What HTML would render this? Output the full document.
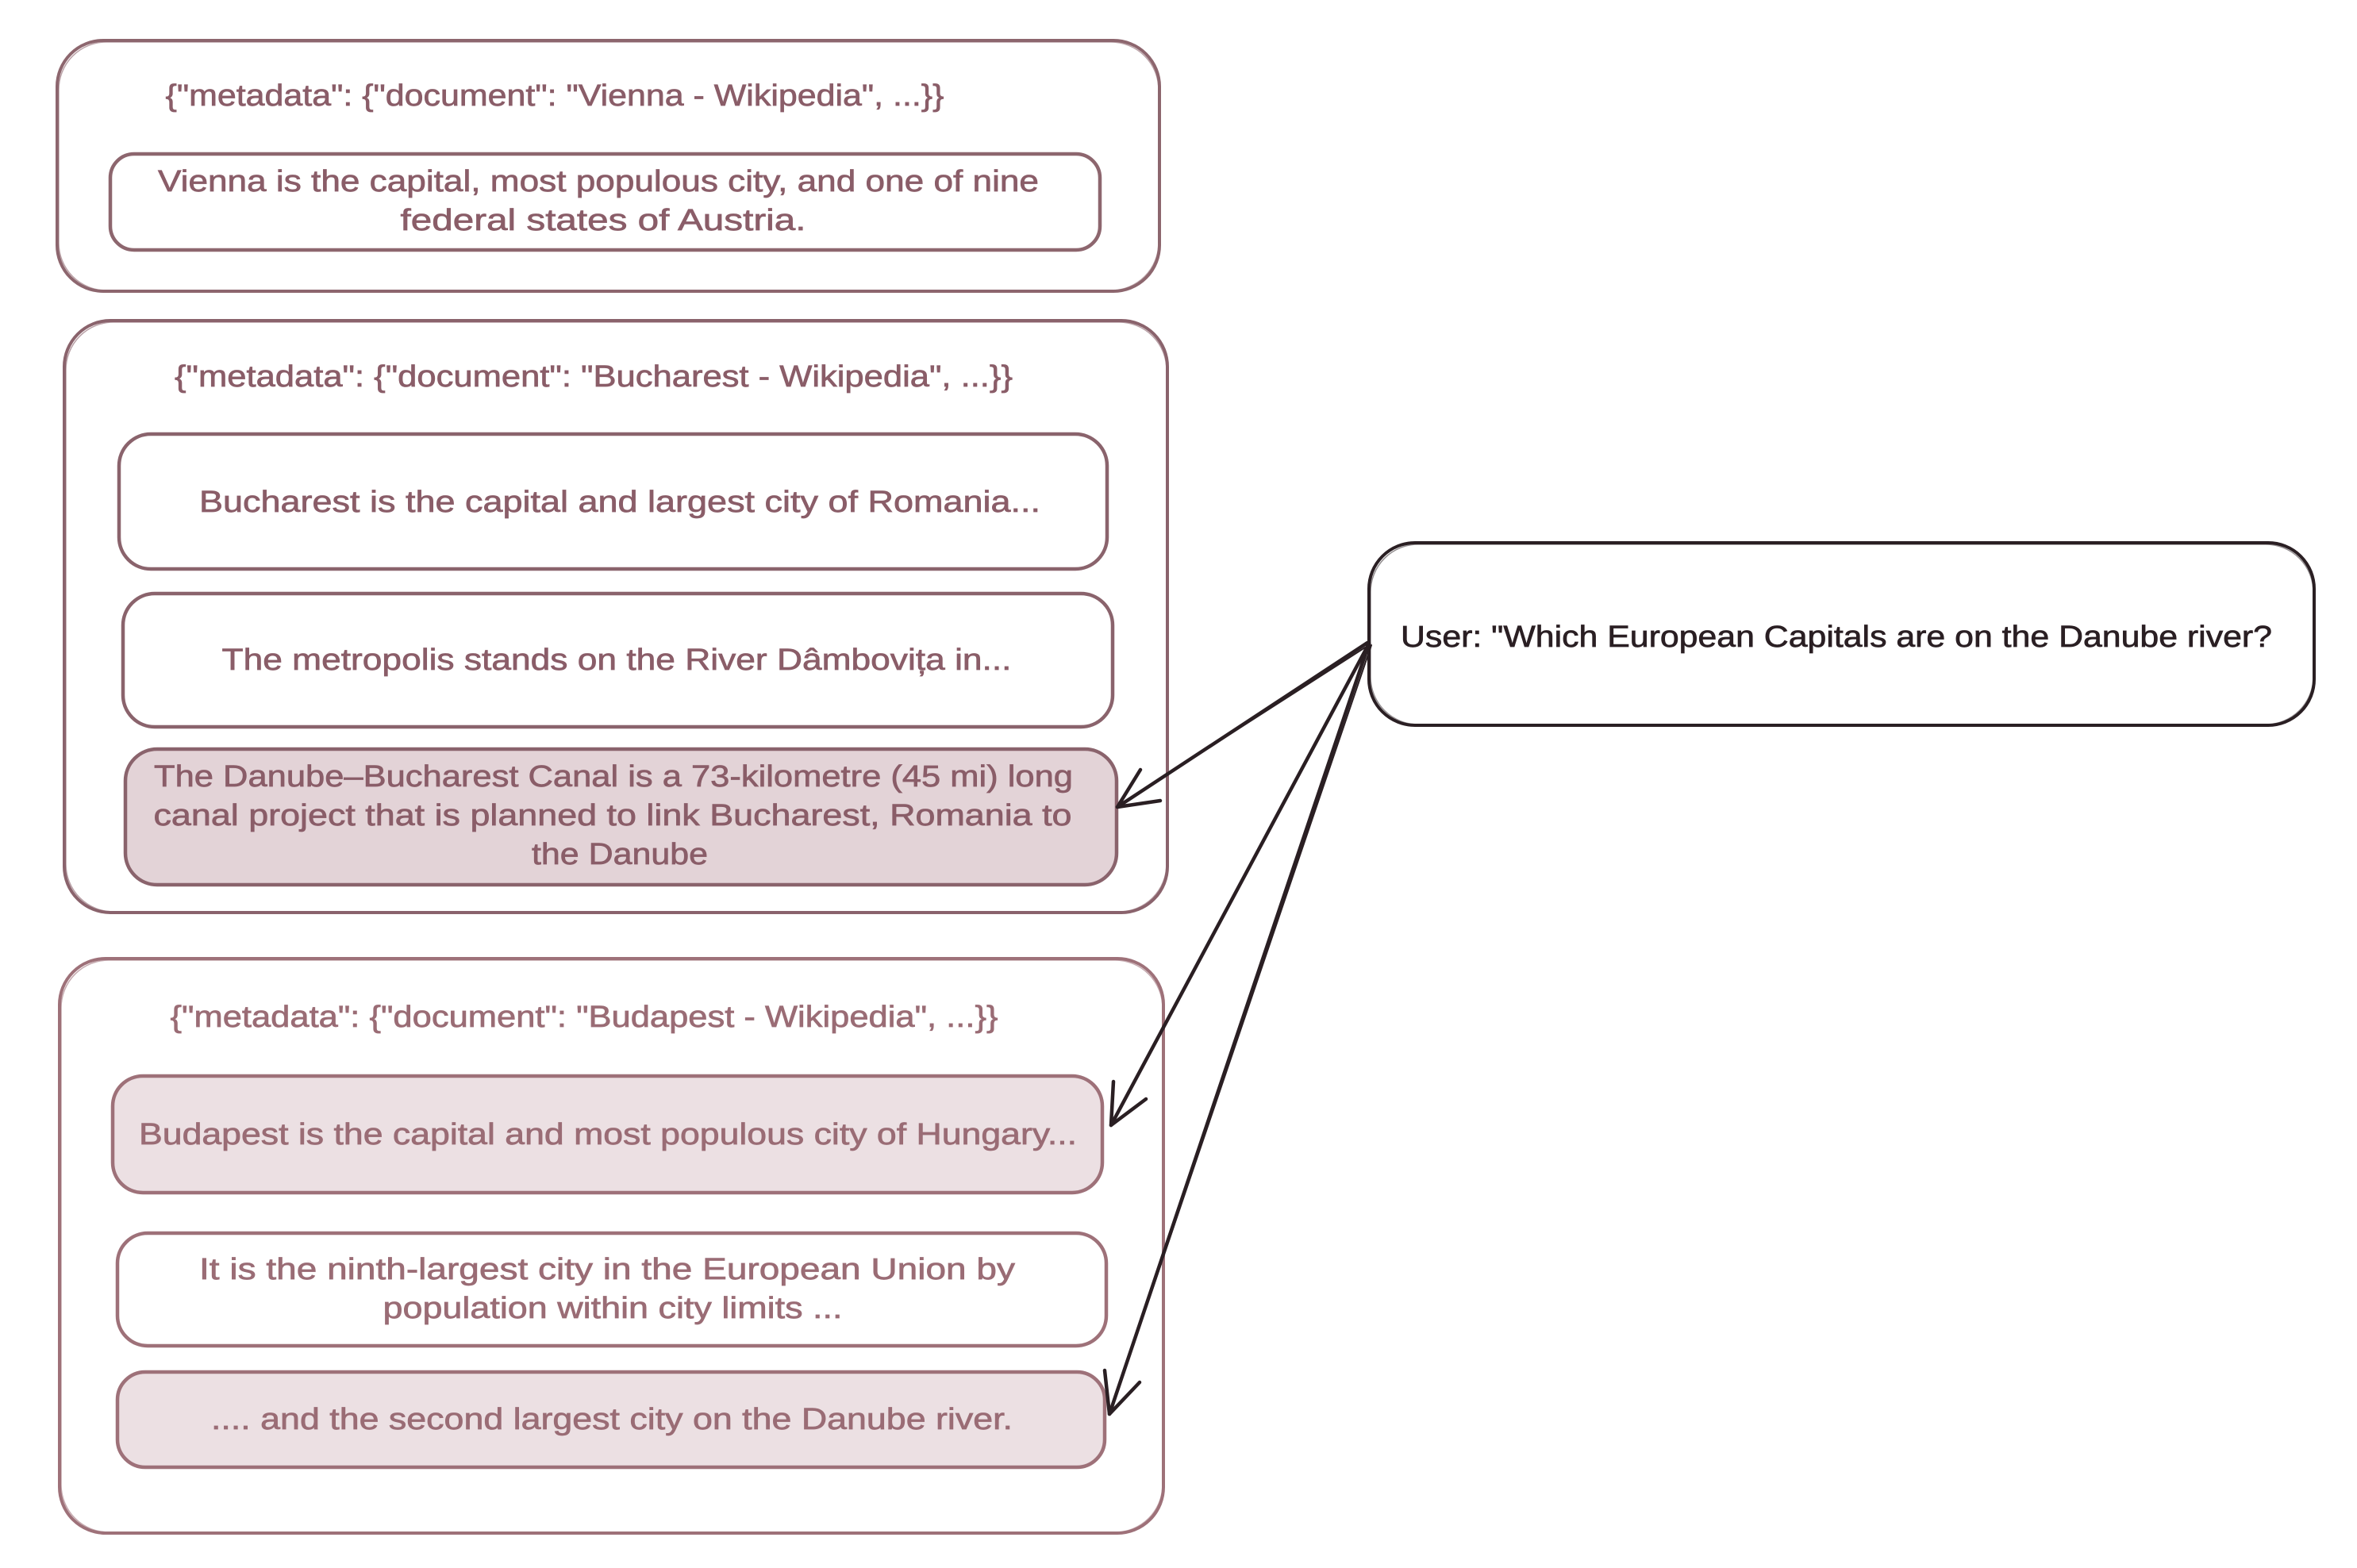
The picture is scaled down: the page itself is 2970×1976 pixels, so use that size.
<!DOCTYPE html>
<html>
<head>
<meta charset="utf-8">
<style>
  html, body { margin: 0; padding: 0; background: #ffffff; }
  body { width: 2970px; height: 1976px; overflow: hidden; }
  svg { display: block; }
  text { font-family: "Liberation Sans", "DejaVu Sans", sans-serif; font-size: 38px; stroke-width: 0.7px; }
  .t1 { fill: #8a5d68; stroke: #8a5d68; }
  .t2 { fill: #9a6c75; stroke: #9a6c75; }
  .tu { fill: #2a1f23; stroke: #2a1f23; }
</style>
</head>
<body>
<svg width="2970" height="1976" viewBox="0 0 2970 1976" xmlns="http://www.w3.org/2000/svg">
  <rect x="0" y="0" width="2970" height="1976" fill="#ffffff"/>

  <!-- Vienna group -->
  <rect x="72" y="51" width="1389" height="316" rx="58" fill="#ffffff" stroke="#8d666e" stroke-width="4"/>
  <rect x="74" y="53" width="1386" height="313" rx="60" fill="none" stroke="#8d666e" stroke-width="1.5" opacity="0.6"/>
  <text class="t1" x="699" y="133" text-anchor="middle" textLength="981" lengthAdjust="spacingAndGlyphs">{"metadata": {"document": "Vienna - Wikipedia", ...}}</text>
  <rect x="139" y="194" width="1247" height="121" rx="30" fill="#ffffff" stroke="#8d666e" stroke-width="4.5"/>
  <text class="t1" x="754" y="241" text-anchor="middle" textLength="1110" lengthAdjust="spacingAndGlyphs">Vienna is the capital, most populous city, and one of nine</text>
  <text class="t1" x="760" y="290" text-anchor="middle" textLength="511" lengthAdjust="spacingAndGlyphs">federal states of Austria.</text>

  <!-- Bucharest group -->
  <rect x="81" y="404" width="1390" height="746" rx="58" fill="#ffffff" stroke="#8a636c" stroke-width="4"/>
  <rect x="83" y="406" width="1387" height="743" rx="60" fill="none" stroke="#8a636c" stroke-width="1.5" opacity="0.6"/>
  <text class="t1" x="748" y="487" text-anchor="middle" textLength="1056" lengthAdjust="spacingAndGlyphs">{"metadata": {"document": "Bucharest - Wikipedia", ...}}</text>

  <rect x="150" y="547" width="1245" height="170" rx="40" fill="#ffffff" stroke="#8a636c" stroke-width="4.5"/>
  <text class="t1" x="781" y="645" text-anchor="middle" textLength="1060" lengthAdjust="spacingAndGlyphs">Bucharest is the capital and largest city of Romania...</text>

  <rect x="155" y="748" width="1247" height="168" rx="40" fill="#ffffff" stroke="#8a636c" stroke-width="4.5"/>
  <text class="t1" x="777" y="844" text-anchor="middle" textLength="995" lengthAdjust="spacingAndGlyphs">The metropolis stands on the River Dâmbovița in...</text>

  <rect x="158" y="944" width="1249" height="171" rx="40" fill="#e3d3d7" stroke="#8a636c" stroke-width="4.5"/>
  <text class="t1" x="773" y="991" text-anchor="middle" textLength="1158" lengthAdjust="spacingAndGlyphs">The Danube–Bucharest Canal is a 73-kilometre (45 mi) long</text>
  <text class="t1" x="772" y="1040" text-anchor="middle" textLength="1157" lengthAdjust="spacingAndGlyphs">canal project that is planned to link Bucharest, Romania to</text>
  <text class="t1" x="781" y="1089" text-anchor="middle" textLength="222" lengthAdjust="spacingAndGlyphs">the Danube</text>

  <!-- Budapest group -->
  <rect x="75" y="1208" width="1391" height="724" rx="58" fill="#ffffff" stroke="#9e7179" stroke-width="4"/>
  <rect x="77" y="1210" width="1388" height="721" rx="60" fill="none" stroke="#9e7179" stroke-width="1.5" opacity="0.6"/>
  <text class="t2" x="736" y="1294" text-anchor="middle" textLength="1043" lengthAdjust="spacingAndGlyphs">{"metadata": {"document": "Budapest - Wikipedia", ...}}</text>

  <rect x="142" y="1356" width="1247" height="147" rx="38" fill="#ece0e3" stroke="#9e7179" stroke-width="4.5"/>
  <text class="t2" x="766" y="1442" text-anchor="middle" textLength="1182" lengthAdjust="spacingAndGlyphs">Budapest is the capital and most populous city of Hungary...</text>

  <rect x="148" y="1554" width="1246" height="142" rx="38" fill="#ffffff" stroke="#9e7179" stroke-width="4.5"/>
  <text class="t2" x="765" y="1612" text-anchor="middle" textLength="1028" lengthAdjust="spacingAndGlyphs">It is the ninth-largest city in the European Union by</text>
  <text class="t2" x="772" y="1661" text-anchor="middle" textLength="579" lengthAdjust="spacingAndGlyphs">population within city limits ...</text>

  <rect x="148" y="1729" width="1244" height="120" rx="35" fill="#ece0e3" stroke="#9e7179" stroke-width="4.5"/>
  <text class="t2" x="771" y="1801" text-anchor="middle" textLength="1010" lengthAdjust="spacingAndGlyphs">.... and the second largest city on the Danube river.</text>

  <!-- User box -->
  <rect x="1725" y="684" width="1191" height="230" rx="58" fill="#ffffff" stroke="#2a1f23" stroke-width="4"/>
  <rect x="1727" y="686" width="1188" height="227" rx="60" fill="none" stroke="#2a1f23" stroke-width="1.5" opacity="0.5"/>
  <text class="tu" x="2314" y="815" text-anchor="middle" textLength="1098" lengthAdjust="spacingAndGlyphs">User: "Which European Capitals are on the Danube river?</text>

  <!-- Arrows -->
  <g stroke="#2a1f23" stroke-width="4.5" fill="none" stroke-linecap="round" stroke-linejoin="round">
    <!-- to canal -->
    <path d="M1723 810 L1408 1017"/>
    <path d="M1720 816 L1410 1015" stroke-width="2"/>
    <path d="M1437 970 L1408 1017 L1462 1009"/>
    <!-- to Budapest capital -->
    <path d="M1725 811 L1400 1418"/>
    <path d="M1722 816 L1402 1414" stroke-width="2"/>
    <path d="M1403 1363 L1400 1418 L1444 1385"/>
    <!-- to second largest -->
    <path d="M1725 811 L1398 1782"/>
    <path d="M1728 813 L1400 1778" stroke-width="2"/>
    <path d="M1392 1727 L1398 1782 L1436 1742"/>
  </g>
</svg>
</body>
</html>
